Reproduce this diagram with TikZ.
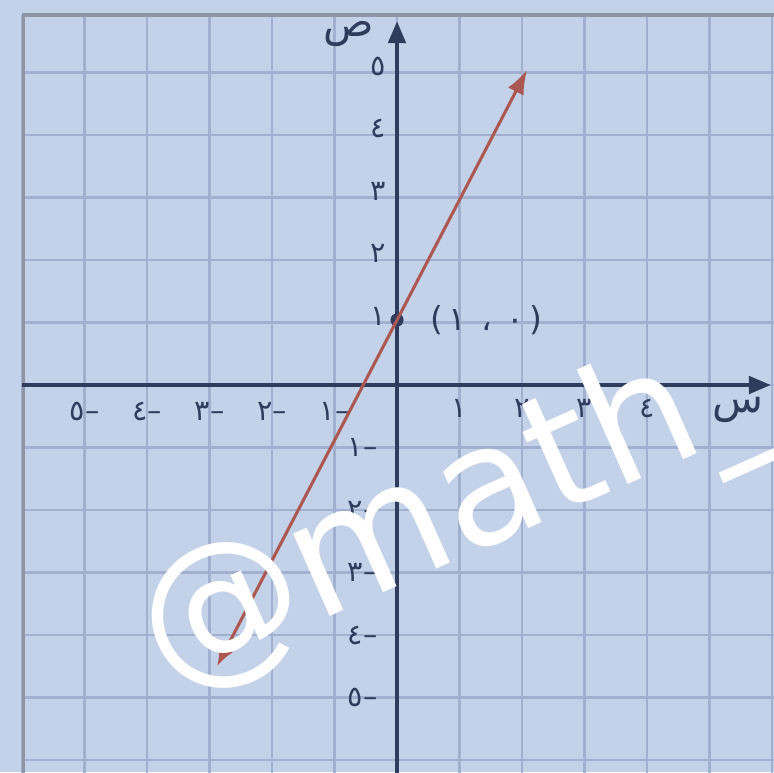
\documentclass[tikz,border=0pt]{standalone}
\usepackage{fontspec}
\setmainfont{DejaVu Sans}
\newfontfamily\arabicfont[Script=Arabic]{DejaVu Sans}
\TeXXeTstate=1
\usetikzlibrary{arrows.meta, positioning}

\definecolor{paper}{RGB}{196,210,233}
\definecolor{gridblue}{RGB}{160,176,206}
\definecolor{axisnavy}{RGB}{48,60,92}
\definecolor{inkred}{RGB}{172,88,82}

\begin{document}
\begin{tikzpicture}[
    gridline/.style={draw=gridblue, line width=1.1pt},
    axis/.style={draw=axisnavy, line width=1.6pt, -{Triangle[length=10pt, width=8pt]}},
    numlabel/.style={font=\arabicfont\fontsize{13}{15}\selectfont, text=axisnavy, inner sep=1pt},
    varlabel/.style={font=\arabicfont\fontsize{19}{21}\selectfont, text=axisnavy, inner sep=1pt},
    graphline/.style={draw=inkred, line width=1.4pt, {Latex[length=9pt, width=7pt]}-{Latex[length=11pt, width=8pt]}},
    dot/.style={circle, fill=axisnavy, inner sep=0pt, minimum size=6pt}
]
\useasboundingbox[fill=paper] (-6.352,-6.192) rectangle (6.032,6.16);
\clip (-6.352,-6.192) rectangle (6.032,6.16);

% squared paper
\draw[gridline] (-6,-6.5) grid (6.5,5.92);
\draw[axisnavy!55, line width=1.4pt] (-5.98,-6.5) -- (-5.98,5.92) -- (6.5,5.92);

% axes
\coordinate (xstart) at (-6,0);
\coordinate (xend) at (5.98,0);
\coordinate (ystart) at (0,-6.3);
\coordinate (yend) at (0,5.82);
\path[axis] (xstart) -- (xend);
\path[axis] (ystart) -- (yend);
\node[varlabel] (xname) at (5.45,-0.4) {س};
\node[varlabel] (yname) at (-0.78,5.62) {ص};

% numbers on the axes
\foreach \d [count=\k] in {١,٢,٣,٤} {
    \node[numlabel] (xp\k) at (\k,-0.38) {\d};
}
\foreach \d [count=\k] in {١,٢,٣,٤,٥} {
    \node[numlabel] (xn\k) at (-\k,-0.42) {–\d};
    \node[numlabel] (yp\k) at (-0.3,\k+0.1) {\d};
    \node[numlabel] (yn\k) at (-0.55,-\k) {–\d};
}

% the line through (0,1)
\node[dot] (p) at (0,1.04) {};
\node[font=\fontsize{15}{17}\selectfont, text=axisnavy, right=0.3cm of p] (plab) {(\,{\arabicfont ١}\;\,{\arabicfont ،}\;\,{\arabicfont ٠}\,)};
\coordinate (lo) at (-2.88,-4.5);
\coordinate (hi) at (2.08,5.04);
\path[graphline] (lo) -- (hi);

% watermark
\node[font=\fontsize{75}{80}\selectfont, text=white, rotate=24, anchor=base west, inner sep=0pt] (wm) at (-3.7,-4.88) {@math\_};
\end{tikzpicture}
\end{document}
